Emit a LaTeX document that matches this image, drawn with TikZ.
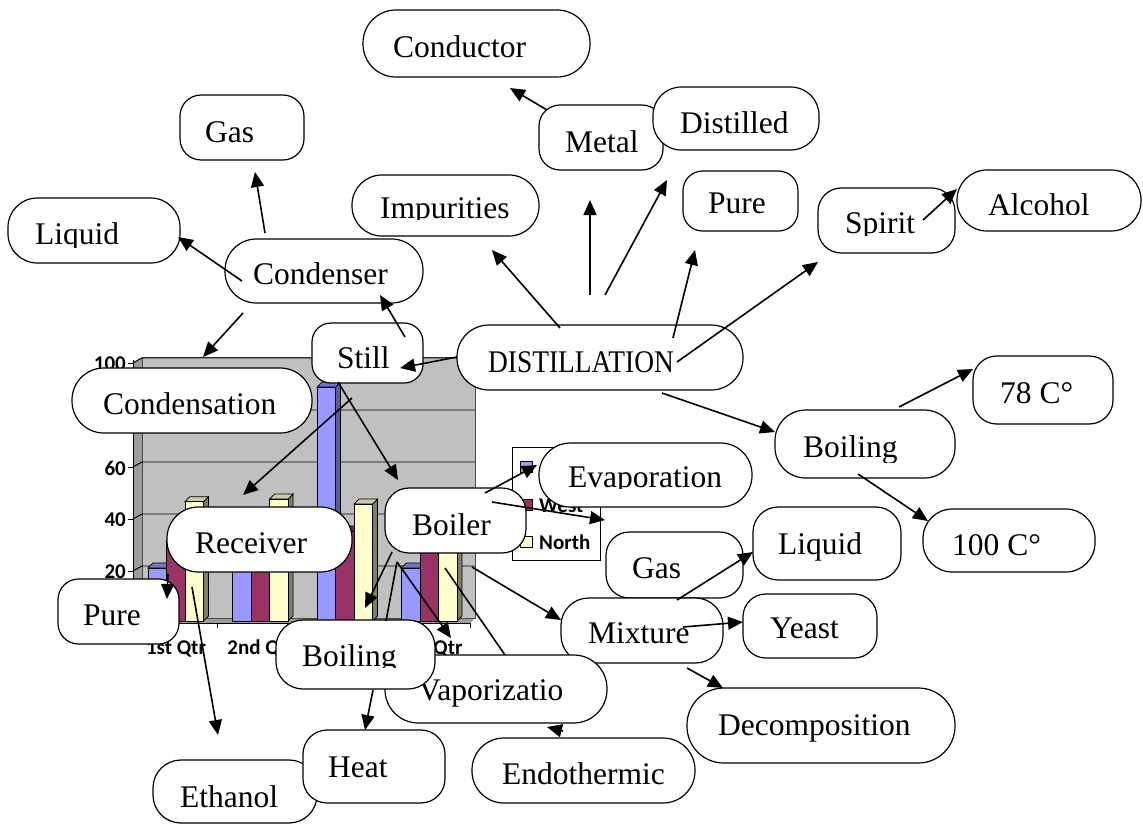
\documentclass[tikz,border=0pt]{standalone}
\usepackage{fontspec}
\setmainfont{Liberation Serif}
\newfontfamily\chartfont{Carlito}
\usepackage{graphicx}
\usetikzlibrary{arrows.meta,fit}
\definecolor{eastF}{HTML}{9999FF}
\definecolor{eastS}{HTML}{5C5C99}
\definecolor{eastT}{HTML}{7373CC}
\definecolor{westF}{HTML}{993366}
\definecolor{westS}{HTML}{5E1F3F}
\definecolor{westT}{HTML}{7A2952}
\definecolor{northF}{HTML}{FFFFCC}
\definecolor{northS}{HTML}{7F7F66}
\definecolor{northT}{HTML}{CCCCA3}
\definecolor{wallgray}{HTML}{C0C0C0}
\definecolor{sidegray}{HTML}{9C9C9C}
\tikzset{
  box/.style={draw, fill=white, line width=1.2pt, inner sep=0pt, outer sep=0pt},
  lbl/.style={anchor=base west, inner sep=0pt, font=\fontsize{31.5}{36}\selectfont},
  conn/.style={line width=1.6pt, -{Triangle[length=15pt,width=13pt]}},
  plainline/.style={line width=1.6pt},
  gridl/.style={line width=0.9pt},
  barline/.style={line width=0.7pt, draw=black},
  chartlbl/.style={inner sep=0pt, font=\chartfont\bfseries\fontsize{21}{24}\selectfont},
}
\newcommand\cbox[8]{%
  \pgfmathsetmacro\rr{min(0.17*(#4-#2),0.49*(#5-#3))}%
  \node[box, rounded corners=\rr pt, fit={(#2,#3) (#4,#5)}] (#1) {};
  \node[lbl] (#1-t) at (#6,#7) {#8};
}
\newcommand\cboxc[9]{%
  \pgfmathsetmacro\rr{min(0.17*(#4-#2),0.49*(#5-#3))}%
  \node[box, rounded corners=\rr pt, fit={(#2,#3) (#4,#5)}] (#1) {};
  \begin{scope}
    \clip (#2,#3) rectangle (#4,#9);
    \node[lbl] (#1-t) at (#6,#7) {#8};
  \end{scope}
}
\newcommand\chartbar[5]{%
  \pgfmathsetmacro\yt{621-2.6*#2}
  \filldraw[fill=#4, barline] (#1+18.5,621) -- (#1+23.5,616) -- (#1+23.5,\yt-5) -- (#1+18.5,\yt) -- cycle;
  \filldraw[fill=#5, barline] (#1,\yt) -- (#1+5,\yt-5) -- (#1+23.5,\yt-5) -- (#1+18.5,\yt) -- cycle;
  \filldraw[fill=#3, barline] (#1,621) rectangle (#1+18.5,\yt);
}
\begin{document}
\begin{tikzpicture}[x=1pt,y=-1pt]
\useasboundingbox (0,0) rectangle (1143,825);

% ---------- chart ----------
\fill[sidegray] (133,362) -- (142,357) -- (142,618) -- (133,623) -- cycle;
\fill[wallgray] (142,357) rectangle (475,618);
\fill[sidegray] (133,623) -- (142,618) -- (475,618) -- (470,623) -- cycle;
\draw[gray!60!black, line width=0.8pt] (142,357) rectangle (475,618);
\foreach \v in {20,40,60,80,100} {
  \draw[gridl] (133,{623-2.6*\v}) -- (142,{618-2.6*\v}) -- (475,{618-2.6*\v});
}
\draw[line width=0.9pt] (133,360) -- (133,623) -- (470,623);
\foreach \v in {0,20,40,60,80,100} { \draw[line width=0.9pt] (128,{623-2.6*\v}) -- (133,{623-2.6*\v}); }
\foreach \x in {133,217,301,386,470} { \draw[line width=0.9pt] (\x,623) -- (\x,628); }
\node[chartlbl, anchor=east] (v100) at (126,364) {100};
\node[chartlbl, anchor=east] (v60) at (126,468) {60};
\node[chartlbl, anchor=east] (v40) at (126,520) {40};
\node[chartlbl, anchor=east] (v20) at (126,572) {20};
% bars
\chartbar{148}{20.4}{eastF}{eastS}{eastT}
\chartbar{166.5}{30.6}{westF}{westS}{westT}
\chartbar{185}{45.9}{northF}{northS}{northT}
\chartbar{232.5}{27.4}{eastF}{eastS}{eastT}
\chartbar{251}{38.6}{westF}{westS}{westT}
\chartbar{269.5}{46.9}{northF}{northS}{northT}
\chartbar{317}{90}{eastF}{eastS}{eastT}
\chartbar{335.5}{34.6}{westF}{westS}{westT}
\chartbar{354}{45}{northF}{northS}{northT}
\chartbar{401.5}{20.4}{eastF}{eastS}{eastT}
\chartbar{420}{31.6}{westF}{westS}{westT}
\chartbar{438.5}{43.9}{northF}{northS}{northT}
\node[chartlbl, anchor=base] (q1) at (176,654) {1st Qtr};
\node[chartlbl, anchor=base] (q2) at (261,654) {2nd Qtr};
\node[chartlbl, anchor=base] (q4) at (431,654) {4th Qtr};
% legend
\draw[line width=0.9pt, fill=white] (512,447) rectangle (600,560);
\filldraw[fill=eastF, line width=0.6pt] (520,461) rectangle (532,472);
\filldraw[fill=westF, line width=0.6pt] (520,499) rectangle (532,510);
\filldraw[fill=northF, line width=0.6pt] (520,536) rectangle (532,547);
\node[chartlbl, anchor=base west] (lgw) at (539,512) {West};
\node[chartlbl, anchor=base west] (lgn) at (539,549) {North};

% ---------- nodes ----------
\cbox{conductor}{363}{10}{590}{77}{393}{57}{Conductor}
\cbox{gas1}{180}{95}{304}{160}{205}{142}{Gas}
\cboxc{liquid1}{8}{198}{180}{263}{35}{244}{Liquid}{247}
\cbox{condenser}{225}{239}{423}{303}{253}{284}{Condenser}
\cboxc{impurities}{352}{175}{539}{236}{380}{218}{Impurities}{219}
\cbox{metal}{539}{105}{663}{170}{565}{152}{Metal}
\cbox{distilled}{653}{87}{819}{150}{680}{133}{Distilled}
\cbox{pure1}{683}{171}{798}{231}{708}{213}{Pure}
\cboxc{spirit}{818}{188}{955}{253}{845}{233}{Spirit}{235}
\cboxc{alcohol}{957}{170}{1141}{231}{988}{215}{Alcohol}{214}
\cbox{still}{312}{323}{423}{383}{337}{368}{Still}
\cbox{distillation}{457}{325}{743}{390}{488}{372}{\scalebox{0.87}[1]{DISTILLATION}}
\cbox{condensation}{72}{368}{312}{433}{103}{414}{Condensation}
\cboxc{boilingR}{775}{410}{955}{478}{803}{457}{Boiling}{462}
\cbox{c78}{973}{356}{1113}{424}{1000}{403}{78 C°}
\cboxc{c100}{923}{509}{1095}{572}{952}{555}{100 C°}{556}
\cboxc{evaporation}{539}{443}{752}{507}{568}{487}{Evaporation}{488}
\cbox{receiver}{167}{507}{352}{572}{195}{553}{Receiver}
\cbox{boiler}{385}{488}{526}{553}{412}{535}{Boiler}
\cbox{gas2}{606}{532}{743}{598}{632}{578}{Gas}
\cbox{mixture}{561}{598}{723}{663}{588}{643}{Mixture}
\cbox{liquid2}{753}{507}{901}{580}{778}{554}{Liquid}
\cbox{yeast}{743}{594}{877}{658}{770}{638}{Yeast}
\cbox{decomposition}{687}{688}{955}{763}{718}{735}{Decomposition}
\cbox{vapor}{385}{655}{607}{723}{418}{700}{Vaporizatio}
\cboxc{boilingB}{276}{620}{435}{689}{302}{666}{Boiling}{667}
\cbox{endothermic}{472}{738}{695}{803}{502}{784}{Endothermic}
\cbox{pure2}{58}{579}{179}{644}{83}{625}{Pure}
\cbox{ethanol}{153}{760}{317}{823}{180}{807}{Ethanol}
\cbox{heat}{303}{730}{445}{803}{328}{777}{Heat}

% ---------- connectors ----------
\draw[conn] ([shift={(40,-6)}]condenser.north west) -- ([shift={(75,77)}]gas1.north west);
\draw[conn] ([shift={(17,42)}]condenser.north west) -- ([shift={(170,39)}]liquid1.north west);
\draw[conn] ([shift={(18,74)}]condenser.north west) -- ([shift={(131,-11)}]condensation.north west);
\draw[conn] ([shift={(93,14)}]still.north west) -- ([shift={(155,56)}]condenser.north west);
\draw[conn] ([shift={(0,32)}]distillation.north west) -- ([shift={(88,45)}]still.north west);
\draw[conn] ([shift={(103,3)}]distillation.north west) -- ([shift={(140,75)}]impurities.north west);
\draw[conn] ([shift={(133,-30)}]distillation.north west) -- ([shift={(51,95)}]metal.north west);
\draw[conn] ([shift={(148,-30)}]distillation.north west) -- ([shift={(14,93)}]distilled.north west);
\draw[conn] ([shift={(216,13)}]distillation.north west) -- ([shift={(12,79)}]pure1.north west);
\draw[conn] ([shift={(220,37)}]distillation.north west) -- ([shift={(0,74)}]spirit.north west);
\draw[conn] ([shift={(105,32)}]spirit.north west) -- ([shift={(0,19)}]alcohol.north west);
\draw[conn] ([shift={(8,5)}]metal.north west) -- ([shift={(147,78)}]conductor.north west);
\draw[conn] ([shift={(205,68)}]distillation.north west) -- ([shift={(0,22)}]boilingR.north west);
\draw[conn] ([shift={(124,-3)}]boilingR.north west) -- ([shift={(0,13)}]c78.north west);
\draw[conn] ([shift={(83,64)}]boilingR.north west) -- ([shift={(5,12)}]c100.north west);
\draw[conn] ([shift={(40,75)}]still.north west) -- ([shift={(76,-12)}]receiver.north west);
\draw[conn] ([shift={(26,59)}]still.north west) -- ([shift={(13,-8)}]boiler.north west);
\draw[conn] ([shift={(100,5)}]boiler.north west) -- ([shift={(-2,22)}]evaporation.north west);
\draw[conn] ([shift={(107,14)}]boiler.north west) -- ([shift={(-1,-12)}]gas2.north west);
\draw[conn] ([shift={(7,64)}]boiler.north west) -- ([shift={(89,-12)}]boilingB.north west);
\draw[plainline] ([shift={(12,74)}]boiler.north west) -- ([shift={(110,1)}]boilingB.north west);
\draw[conn] ([shift={(12,74)}]boiler.north west) -- ([shift={(66,-17)}]vapor.north west);
\draw[plainline] ([shift={(60,80)}]boiler.north west) -- ([shift={(120,0)}]vapor.north west);
\draw[conn] ([shift={(87,79)}]boiler.north west) -- ([shift={(0,22)}]mixture.north west);
\draw[conn] ([shift={(116,2)}]mixture.north west) -- ([shift={(0,45)}]liquid2.north west);
\draw[conn] ([shift={(122,29)}]mixture.north west) -- ([shift={(0,28)}]yeast.north west);
\draw[conn] ([shift={(126,70)}]mixture.north west) -- ([shift={(36,0)}]decomposition.north west);
\draw[conn] ([shift={(91,-7)}]endothermic.north west) -- ([shift={(162,72)}]vapor.north west);
\draw[conn] ([shift={(1,67)}]receiver.north west) -- ([shift={(109,20)}]pure2.north west);
\draw[conn] ([shift={(25,80)}]receiver.north west) -- ([shift={(65,-25)}]ethanol.north west);
\draw[conn] ([shift={(97,70)}]boilingB.north west) -- ([shift={(62,0)}]heat.north west);
\end{tikzpicture}
\end{document}
